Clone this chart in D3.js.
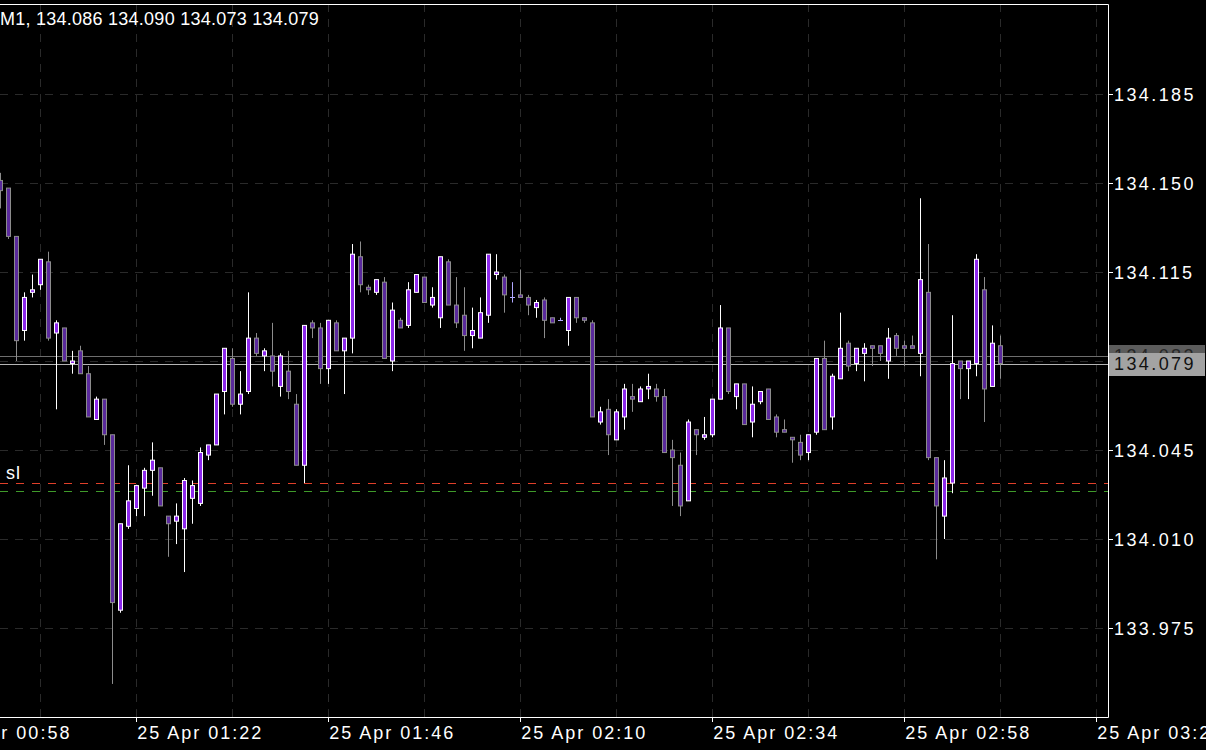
<!DOCTYPE html>
<html>
<head>
<meta charset="utf-8">
<script src="https://cdn.jsdelivr.net/npm/d3@7/dist/d3.min.js"></script>
<style>
  body { margin: 0; background: #000; }
  svg { display: block; font-family: "Liberation Sans", Arial, sans-serif; }
</style>
</head>
<body>
<div id="chart"></div>
<script>
// M1 bars, one per minute starting 25 Apr 01:05
var opens = [
  134.151,134.148,134.129,134.092,134.107,134.110,134.119,134.091,134.093,134.079,
  134.084,134.075,134.057,134.065,134.051,133.982,134.015,134.022,134.030,134.037,
  134.038,134.019,134.017,134.014,134.026,134.024,134.043,134.047,134.068,134.081,
  134.063,134.068,134.089,134.082,134.082,134.070,134.076,134.063,134.039,134.095,
  134.093,134.077,134.095,134.084,134.089,134.121,134.109,134.107,134.111,134.080,
  134.096,134.094,134.107,134.113,134.102,134.097,134.119,134.102,134.098,134.090,
  134.089,134.098,134.114,134.113,134.105,134.106,134.105,134.101,134.104,134.097,
  134.096,134.092,134.105,134.097,134.095,134.056,134.061,134.049,134.058,134.066,
  134.064,134.069,134.069,134.066,134.045,134.039,134.025,134.053,134.050,134.051,
  134.065,134.093,134.066,134.071,134.056,134.064,134.069,134.058,134.053,134.050,
  134.048,134.044,134.052,134.081,134.058,134.073,134.087,134.079,134.083,134.086,
  134.086,134.080,134.090,134.086,134.086,134.083,134.107,134.042,134.019,134.032,
  134.080,134.077,134.079,134.108,134.070,134.086
];
var highs = [
  134.154,134.148,134.129,134.107,134.114,134.120,134.123,134.096,134.093,134.084,
  134.086,134.078,134.066,134.065,134.051,134.016,134.039,134.031,134.038,134.048,
  134.038,134.019,134.024,134.034,134.033,134.046,134.047,134.067,134.085,134.085,
  134.076,134.107,134.091,134.085,134.095,134.083,134.084,134.067,134.094,134.096,
  134.095,134.096,134.096,134.089,134.126,134.127,134.110,134.112,134.113,134.103,
  134.097,134.111,134.114,134.113,134.109,134.121,134.120,134.113,134.109,134.101,
  134.105,134.122,134.122,134.114,134.111,134.116,134.106,134.104,134.105,134.097,
  134.097,134.105,134.105,134.097,134.096,134.062,134.065,134.061,134.071,134.071,
  134.070,134.075,134.071,134.069,134.049,134.044,134.057,134.053,134.058,134.065,
  134.102,134.093,134.071,134.071,134.070,134.068,134.069,134.059,134.057,134.050,
  134.051,134.051,134.081,134.088,134.075,134.099,134.088,134.085,134.087,134.086,
  134.086,134.093,134.091,134.088,134.090,134.144,134.126,134.042,134.041,134.098,
  134.080,134.080,134.122,134.113,134.094,134.090
];
var lows = [
  134.140,134.128,134.080,134.088,134.105,134.108,134.088,134.061,134.080,134.075,
  134.075,134.058,134.057,134.047,133.953,133.981,134.014,134.019,134.019,134.027,
  134.023,134.003,134.008,133.997,134.016,134.023,134.041,134.047,134.059,134.062,
  134.059,134.067,134.082,134.076,134.070,134.066,134.065,134.039,134.032,134.089,
  134.071,134.071,134.084,134.067,134.083,134.107,134.106,134.106,134.081,134.076,
  134.093,134.093,134.107,134.103,134.101,134.093,134.102,134.093,134.084,134.085,
  134.089,134.095,134.112,134.099,134.103,134.105,134.098,134.097,134.089,134.095,
  134.096,134.086,134.095,134.095,134.058,134.055,134.043,134.049,134.053,134.060,
  134.064,134.065,134.064,134.044,134.023,134.019,134.025,134.043,134.049,134.050,
  134.065,134.067,134.061,134.055,134.050,134.063,134.057,134.050,134.052,134.040,
  134.041,134.041,134.051,134.053,134.053,134.073,134.076,134.076,134.072,134.078,
  134.080,134.073,134.082,134.078,134.085,134.074,134.041,134.002,134.010,134.028,
  134.065,134.065,134.074,134.056,134.070,134.073
];
var closes = [
  134.147,134.129,134.088,134.105,134.108,134.120,134.089,134.095,134.080,134.080,
  134.075,134.058,134.065,134.051,133.985,134.016,134.025,134.031,134.037,134.041,
  134.023,134.016,134.019,134.033,134.031,134.044,134.047,134.067,134.085,134.063,
  134.067,134.089,134.083,134.084,134.076,134.082,134.068,134.039,134.094,134.093,
  134.077,134.096,134.084,134.089,134.122,134.110,134.108,134.112,134.081,134.100,
  134.093,134.108,134.114,134.103,134.105,134.121,134.102,134.095,134.090,134.092,
  134.099,134.122,134.115,134.106,134.105,134.105,134.102,134.103,134.096,134.095,
  134.096,134.105,134.097,134.096,134.058,134.060,134.051,134.060,134.069,134.065,
  134.069,134.070,134.066,134.044,134.042,134.023,134.056,134.051,134.051,134.065,
  134.093,134.068,134.071,134.055,134.063,134.068,134.057,134.052,134.052,134.049,
  134.043,134.051,134.081,134.053,134.074,134.085,134.078,134.085,134.085,134.085,
  134.083,134.089,134.085,134.085,134.085,134.112,134.042,134.023,134.034,134.079,
  134.077,134.080,134.120,134.069,134.087,134.079
];

var priceTicks = [133.975, 134.010, 134.045, 134.080, 134.115, 134.150, 134.185];
var timeTicks = ["00:58", "01:22", "01:46", "02:10", "02:34", "02:58", "03:22"];
var timeframe = "M1";
var askPrice = 134.082;
var bidPrice = 134.079;
var slLevels = [134.032, 134.029];

var W = 1206, H = 750;
var plot = {left: 0, top: 4, right: 1108, bottom: 717};
var bullFill = "#8c28ec", bearFill = "#5a2a9c";
var bullLine = "#ffffff", bearLine = "#8c8c8c";
var gridColor = "#2a2a2a";

var day = function(hm) {
  var p = hm.split(":");
  return new Date(2022, 3, 25, +p[0], +p[1]);
};
var start = day("01:05");
var bars = opens.map(function(o, i) {
  return {t: d3.timeMinute.offset(start, i), o: o, h: highs[i], l: lows[i], c: closes[i]};
});

var x = d3.scaleTime()
          .domain([start, d3.timeMinute.offset(start, 137)])
          .range([0.3, 1096.3]);
var y = d3.scaleLinear()
          .domain([133.975, 134.185])
          .range([628, 94]);

var svg = d3.select("#chart").append("svg")
            .attr("width", W).attr("height", H);
svg.append("rect").attr("width", W).attr("height", H).attr("fill", "#000");

svg.append("defs").append("clipPath").attr("id", "plotclip")
   .append("rect")
   .attr("x", plot.left).attr("y", plot.top)
   .attr("width", plot.right - plot.left).attr("height", plot.bottom - plot.top);

var px = function(v) { return Math.round(v) + 0.5; };

// grid
var grid = svg.append("g").attr("clip-path", "url(#plotclip)");
var gridTimes = d3.timeMinute.every(1).range(day("00:58"), day("03:40")).filter(function(d, i) { return i % 12 === 0; });
grid.selectAll(".vg").data(gridTimes).enter().append("line")
    .attr("x1", function(d) { return px(x(d)); }).attr("x2", function(d) { return px(x(d)); })
    .attr("y1", plot.top).attr("y2", plot.bottom)
    .attr("stroke", gridColor).attr("stroke-dasharray", "8,7");
grid.selectAll(".hg").data(priceTicks).enter().append("line")
    .attr("x1", plot.left).attr("x2", plot.right)
    .attr("y1", function(d) { return px(y(d)); }).attr("y2", function(d) { return px(y(d)); })
    .attr("stroke", gridColor).attr("stroke-dasharray", "8,7");

// stop levels
var levelColors = ["#e0402a", "#3f9a2a"];
grid.selectAll(".sl").data(slLevels).enter().append("line")
    .attr("x1", plot.left).attr("x2", plot.right)
    .attr("y1", function(d) { return px(y(d)); }).attr("y2", function(d) { return px(y(d)); })
    .attr("stroke", function(d, i) { return levelColors[i]; })
    .attr("stroke-dasharray", "8,8");
svg.append("text").attr("x", 6).attr("y", px(y(slLevels[0])) - 5)
   .attr("fill", "#fff").style("font-size", "18px").style("letter-spacing", "1px").text("sl");

// ask / bid lines
grid.append("line").attr("x1", plot.left).attr("x2", plot.right)
    .attr("y1", px(y(askPrice))).attr("y2", px(y(askPrice))).attr("stroke", "#6e6e6e");
grid.append("line").attr("x1", plot.left).attr("x2", plot.right)
    .attr("y1", px(y(bidPrice))).attr("y2", px(y(bidPrice))).attr("stroke", "#b4b4b4");

// candles
var candles = grid.selectAll(".candle").data(bars).enter().append("g");
candles.append("line")
    .attr("x1", function(d) { return px(x(d.t)); }).attr("x2", function(d) { return px(x(d.t)); })
    .attr("y1", function(d) { return y(d.h); }).attr("y2", function(d) { return y(d.l); })
    .attr("stroke", function(d) { return d.c === d.o ? "#b0a8ff" : (d.c > d.o ? bullLine : bearLine); });
candles.filter(function(d) { return d.c !== d.o; }).append("rect")
    .attr("x", function(d) { return Math.round(x(d.t)) - 1.5; })
    .attr("width", 4)
    .attr("y", function(d) { return y(Math.max(d.o, d.c)); })
    .attr("height", function(d) { return Math.abs(y(d.o) - y(d.c)); })
    .attr("fill", function(d) { return d.c > d.o ? bullFill : bearFill; })
    .attr("stroke", function(d) { return d.c > d.o ? bullLine : bearLine; });
candles.filter(function(d) { return d.c === d.o; }).append("line")
    .attr("x1", function(d) { return Math.round(x(d.t)) - 2; })
    .attr("x2", function(d) { return Math.round(x(d.t)) + 3; })
    .attr("y1", function(d) { return px(y(d.o)); }).attr("y2", function(d) { return px(y(d.o)); })
    .attr("stroke", "#b0a8ff");

// frame
svg.append("path")
   .attr("d", "M0," + (plot.top + 0.5) + "H" + (plot.right + 0.5) + "V" + (plot.bottom + 0.5) + "H0")
   .attr("fill", "none").attr("stroke", "#fff");

// price axis
var yAxis = svg.append("g");
yAxis.selectAll(".tk").data(priceTicks).enter().append("line")
     .attr("x1", plot.right).attr("x2", plot.right + 5)
     .attr("y1", function(d) { return px(y(d)); }).attr("y2", function(d) { return px(y(d)); })
     .attr("stroke", "#fff");
yAxis.selectAll(".lb").data(priceTicks).enter().append("text")
     .attr("x", plot.right + 6).attr("y", function(d) { return y(d) + 6.5; })
     .attr("fill", "#fff").style("font-size", "18px").style("letter-spacing", "2.4px")
     .text(d3.format(".3f"));

// time axis
var tickDates = timeTicks.map(day);
var xAxis = svg.append("g");
xAxis.selectAll(".tk").data(tickDates).enter().append("line")
     .attr("x1", function(d) { return px(x(d)); }).attr("x2", function(d) { return px(x(d)); })
     .attr("y1", plot.bottom).attr("y2", plot.bottom + 5)
     .attr("stroke", "#fff");
xAxis.selectAll(".lb").data(tickDates).enter().append("text")
     .attr("x", function(d) { return x(d) + 1; }).attr("y", 739)
     .attr("fill", "#fff").style("font-size", "18px").style("letter-spacing", "2px")
     .text(d3.timeFormat("%d %b %H:%M"));

// price labels (ask behind, bid in front)
var f3 = d3.format(".3f");
[[askPrice, "#5c5c5c", "#262626"], [bidPrice, "#a3a3a3", "#111111"]].forEach(function(p) {
  var cy = y(p[0]);
  svg.append("rect").attr("x", plot.right + 1).attr("y", Math.round(cy) - 11)
     .attr("width", W - plot.right - 2).attr("height", 23).attr("fill", p[1]);
  svg.append("text").attr("x", plot.right + 6).attr("y", cy + 6.5)
     .attr("fill", p[2]).style("font-size", "18px").style("letter-spacing", "2.4px")
     .text(f3(p[0]));
});

// header
var last = bars[bars.length - 1];
svg.append("text").attr("x", 0).attr("y", 25)
   .attr("fill", "#fff").style("font-size", "18px").style("letter-spacing", "0.25px")
   .text(timeframe + ", " + [last.o, last.h, last.l, last.c].map(f3).join(" "));
</script>
</body>
</html>
